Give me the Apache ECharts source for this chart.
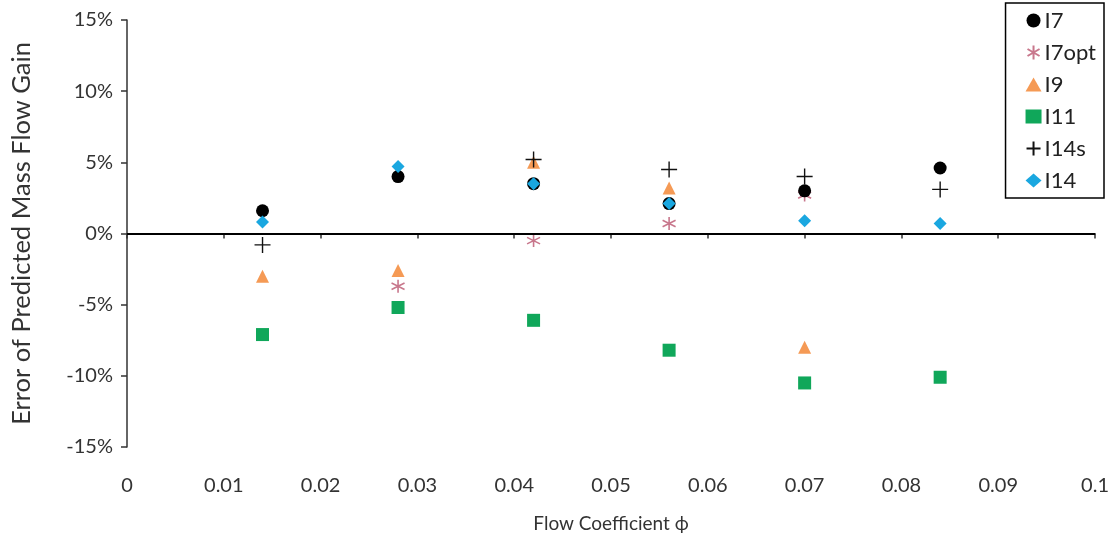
<!DOCTYPE html>
<html>
<head>
<meta charset="utf-8">
<script src="https://cdn.jsdelivr.net/npm/echarts@6/dist/echarts.min.js"></script>
<style>
  html, body { margin: 0; padding: 0; background: #fff; }
  #chart { width: 1112px; height: 544px; }
</style>
</head>
<body>
<div id="chart"></div>
<script>
// Flow coefficient positions of the measured cases
const flowCoeff = [0.014, 0.028, 0.042, 0.056, 0.07, 0.084];

// Error of predicted mass flow gain, percent (null where the case has no point)
const errI7    = [1.6, 4.0, 3.5, 2.1, 3.0, 4.6];
const errI7opt = [null, -3.7, -0.5, 0.7, 2.7, null];
const errI9    = [-3.0, -2.6, 5.0, 3.2, -8.0, null];
const errI11   = [-7.1, -5.2, -6.1, -8.2, -10.5, -10.1];
const errI14s  = [-0.8, null, 5.2, 4.5, 4.0, 3.1];
const errI14   = [0.8, 4.7, 3.5, 2.1, 0.9, 0.7];

const seriesNames = ['I7', 'I7opt', 'I9', 'I11', 'I14s', 'I14'];

const pair = arr => flowCoeff.map((x, i) => arr[i] == null ? null : [x, arr[i]]).filter(p => p);

const plusPath = 'path://M0,5 L10,5 M5,0 L5,10';
const starPath = 'path://M5,0 L5,10 M0.7,2.5 L9.3,7.5 M0.7,7.5 L9.3,2.5';

const FONT = 'Lato';

const chart = echarts.init(document.getElementById('chart'));
chart.setOption({
  animation: false,
  backgroundColor: '#fff',
  textStyle: { fontFamily: FONT },
  grid: { left: 127, right: 12, top: 20, bottom: 97 },
  legend: {
    orient: 'vertical',
    right: 8,
    top: 3,
    padding: [6, 8, 6, 20],
    itemGap: 9,
    itemWidth: 16,
    itemHeight: 14,
    borderColor: '#000',
    borderWidth: 1.5,
    backgroundColor: '#fff',
    data: seriesNames,
    textStyle: { fontSize: 22, lineHeight: 23, color: '#222', fontFamily: FONT, padding: [0, 0, 0, -2] }
  },
  xAxis: {
    type: 'value',
    min: 0, max: 0.1, interval: 0.01,
    name: 'Flow Coefficient \u03d5',
    nameLocation: 'middle',
    nameGap: 67,
    nameTextStyle: { fontSize: 19, color: '#333', fontFamily: FONT },
    splitLine: { show: false },
    axisLine: { lineStyle: { color: '#333', width: 1.5 } },
    axisTick: { show: true, length: 5, lineStyle: { color: '#333', width: 1.5 } },
    axisLabel: {
      fontSize: 20, color: '#333', margin: 29, fontFamily: FONT,
      formatter: v => v === 0 ? '0' : (+v.toFixed(2)).toString()
    }
  },
  yAxis: {
    type: 'value',
    min: -15, max: 15, interval: 5,
    name: 'Error of Predicted Mass Flow Gain',
    nameLocation: 'middle',
    nameGap: 92,
    nameRotate: 90,
    nameTextStyle: { fontSize: 25.5, color: '#333', fontFamily: FONT },
    splitLine: { show: false },
    axisLine: { onZero: false, lineStyle: { color: '#333', width: 1.5 } },
    axisTick: { show: true, length: 6, lineStyle: { color: '#333', width: 1.5 } },
    axisLabel: { fontSize: 20, color: '#333', margin: 14, formatter: '{value}%' }
  },
  series: [
    {
      name: 'I7', type: 'scatter', data: pair(errI7),
      symbol: 'circle', symbolSize: 13,
      itemStyle: { color: '#000', opacity: 1 },
      markLine: {
        silent: true, symbol: 'none', label: { show: false },
        lineStyle: { color: '#000', width: 2, type: 'solid' },
        data: [{ yAxis: 0 }]
      },
      z: 3
    },
    {
      name: 'I7opt', type: 'scatter', data: pair(errI7opt),
      symbol: starPath, symbolSize: 13,
      itemStyle: { color: 'transparent', borderColor: '#c8778c', borderWidth: 1.6, opacity: 1 },
      z: 2
    },
    {
      name: 'I9', type: 'scatter', data: pair(errI9),
      symbol: 'triangle', symbolSize: 13,
      itemStyle: { color: '#f59a55', opacity: 1 },
      z: 2
    },
    {
      name: 'I11', type: 'scatter', data: pair(errI11),
      symbol: 'rect', symbolSize: 13,
      itemStyle: { color: '#10a75a', opacity: 1 },
      z: 2
    },
    {
      name: 'I14s', type: 'scatter', data: pair(errI14s),
      symbol: plusPath, symbolSize: 16,
      itemStyle: { color: 'transparent', borderColor: '#111', borderWidth: 1.4, opacity: 1 },
      z: 4
    },
    {
      name: 'I14', type: 'scatter', data: pair(errI14),
      symbol: 'diamond', symbolSize: 13,
      itemStyle: { color: '#1aa7e0', opacity: 1 },
      z: 3
    }
  ]
});
</script>
</body>
</html>
